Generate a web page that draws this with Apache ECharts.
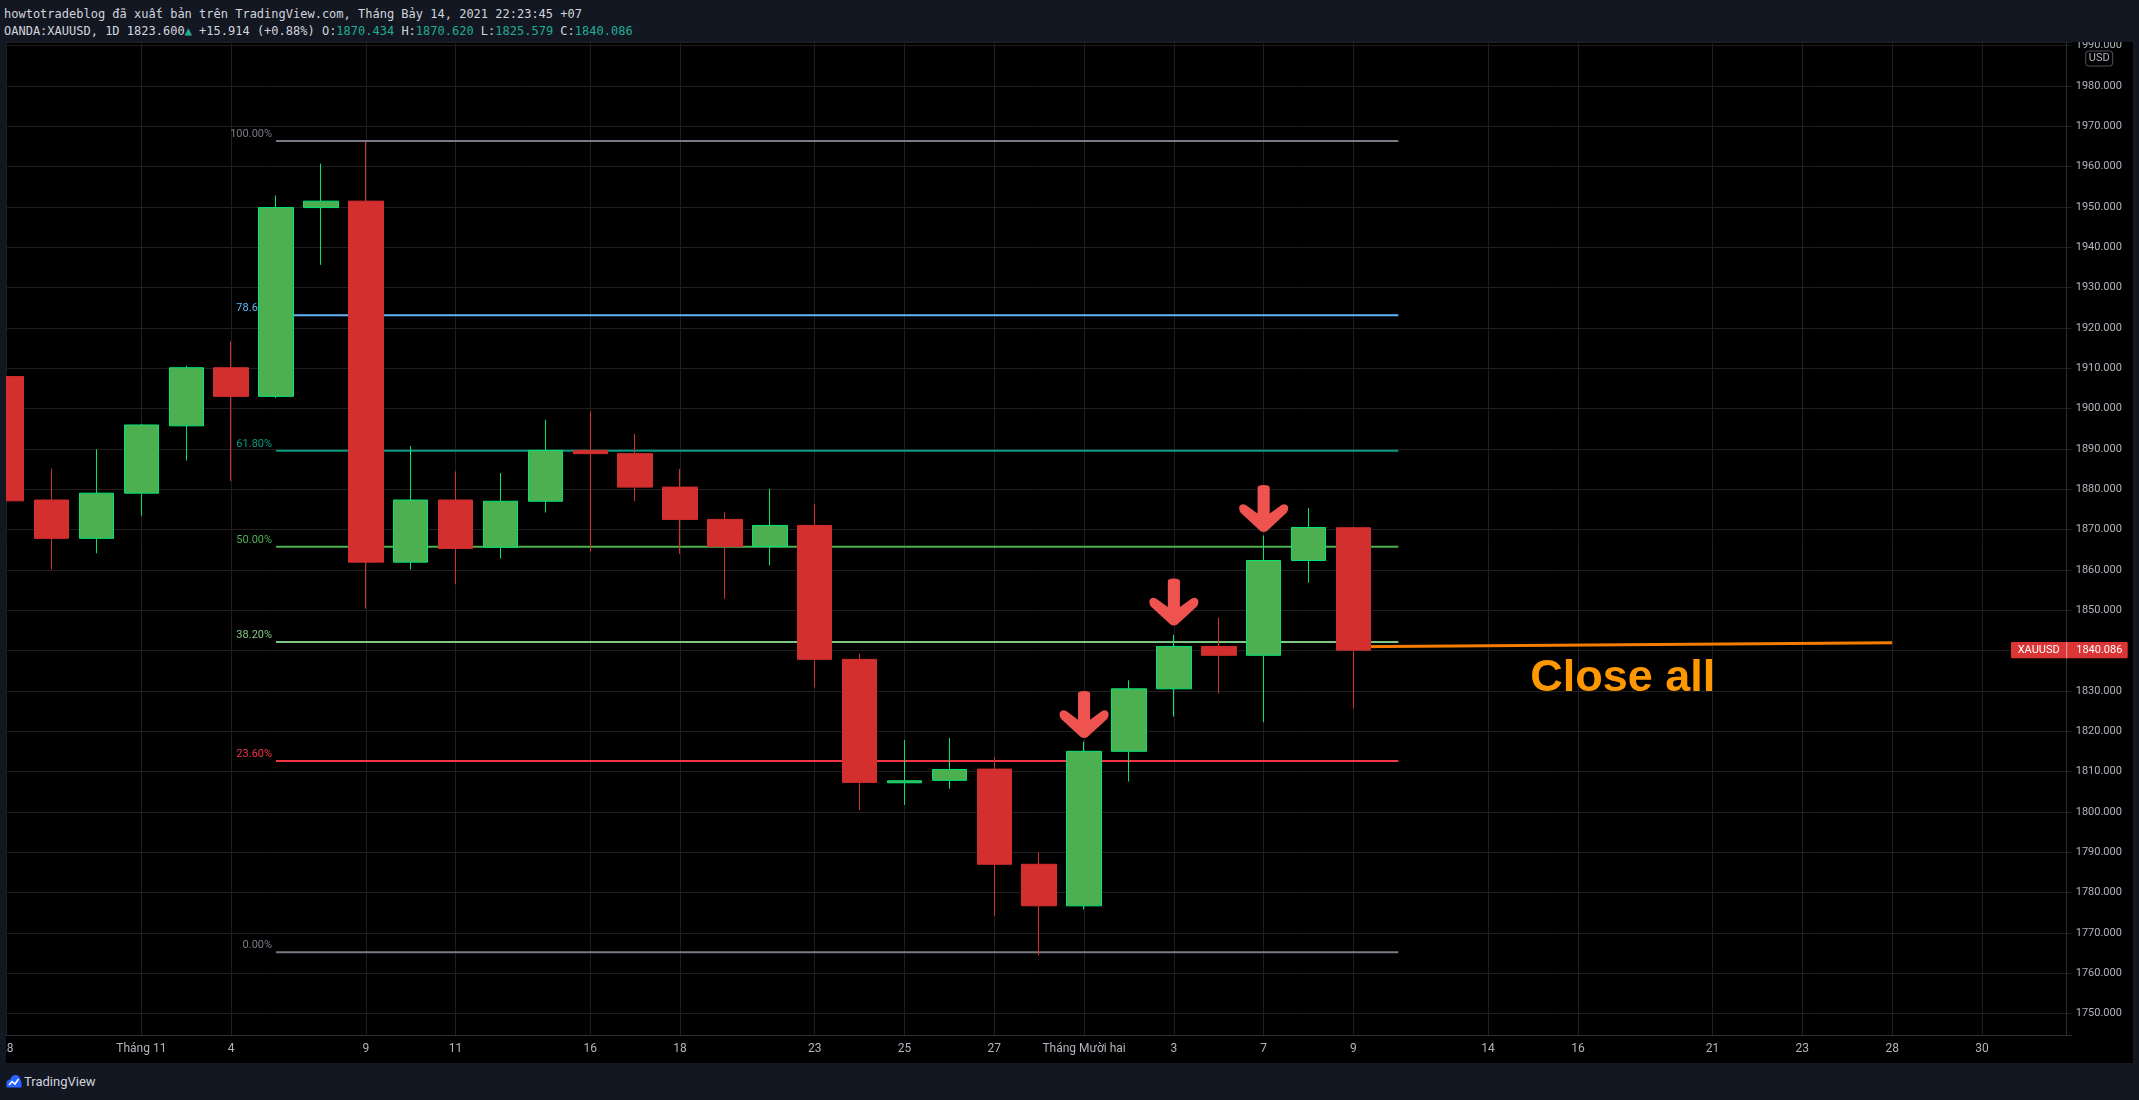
<!DOCTYPE html>
<html>
<head>
<meta charset="utf-8">
<title>XAUUSD 1D</title>
<script src="https://cdn.jsdelivr.net/npm/echarts@6/dist/echarts.min.js"></script>
<style>
    html, body { margin: 0; padding: 0; width: 2139px; height: 1100px; overflow: hidden; background: #131722; }
    #head { position: absolute; left: 4px; top: 6px; font-family: 'DejaVu Sans Mono', monospace; font-size: 12px; line-height: 17px; color: #d1d4dc; white-space: pre; }
    #head .up { color: #22ab94; }
    #main { position: absolute; left: 6px; top: 42px; width: 2127px; height: 1021px; background: #000; }
    #foot { position: absolute; left: 6px; top: 1073px; height: 16px; display: flex; align-items: center; font-family: Roboto, sans-serif; font-size: 13px; color: #d1d4dc; }
    #foot svg { margin-right: 2px; }
</style>
</head>
<body>
<div id="head">howtotradeblog đã xuất bản trên TradingView.com, Tháng Bảy 14, 2021 22:23:45 +07
OANDA:XAUUSD, 1D 1823.600<span class="up">▲</span> +15.914 (+0.88%) O:<span class="up">1870.434</span> H:<span class="up">1870.620</span> L:<span class="up">1825.579</span> C:<span class="up">1840.086</span></div>
<div id="main"></div>
<div id="foot">
    <svg width="16" height="14" viewBox="0 0 16 14"><path d="M0.5 13.5 L0.5 9 Q0.5 5.5 4.5 5.5 Q5.5 1 9.5 1 Q13.5 1 14.5 5.5 Q15.5 7 15.5 9.5 L15.5 13.5 Z" fill="#2962ff"/><polyline points="3,11 6,7.5 9,10 12.5,5" stroke="#fff" stroke-width="1.6" fill="none"/></svg>
    <span>TradingView</span>
</div>
<script>
    // trading days on the time scale (past bars + future slots)
    var days = [
        '2020-10-28', '2020-10-29', '2020-10-30', '2020-11-02', '2020-11-03', '2020-11-04', '2020-11-05',
        '2020-11-06', '2020-11-09', '2020-11-10', '2020-11-11', '2020-11-12', '2020-11-13', '2020-11-16',
        '2020-11-17', '2020-11-18', '2020-11-19', '2020-11-20', '2020-11-23', '2020-11-24', '2020-11-25',
        '2020-11-26', '2020-11-27', '2020-11-30', '2020-12-01', '2020-12-02', '2020-12-03', '2020-12-04',
        '2020-12-07', '2020-12-08', '2020-12-09', '2020-12-10', '2020-12-11', '2020-12-14', '2020-12-15',
        '2020-12-16', '2020-12-17', '2020-12-18', '2020-12-21', '2020-12-22', '2020-12-23', '2020-12-24',
        '2020-12-28', '2020-12-29', '2020-12-30', '2020-12-31', '2021-01-04'
    ];
    var tickDays = ['2020-10-28', '2020-11-02', '2020-11-04', '2020-11-09', '2020-11-11', '2020-11-16', '2020-11-18',
        '2020-11-23', '2020-11-25', '2020-11-27', '2020-12-01', '2020-12-03', '2020-12-07', '2020-12-09',
        '2020-12-14', '2020-12-16', '2020-12-21', '2020-12-23', '2020-12-28', '2020-12-30'];
    var tickTexts = ['28', 'Tháng 11', '4', '9', '11', '16', '18', '23', '25', '27', 'Tháng Mười hai', '3', '7', '9',
        '14', '16', '21', '23', '28', '30'];

    var opens  = [1907.9, 1877.3, 1867.8, 1879.0, 1895.7, 1910.1, 1903.0, 1949.8, 1951.4, 1861.9, 1877.3,
                  1865.6, 1877.0, 1889.6, 1888.8, 1880.5, 1872.5, 1865.8, 1871.0, 1837.8, 1807.2,
                  1807.8, 1810.6, 1787.0, 1776.7, 1815.0, 1830.5, 1841.0, 1838.8, 1862.3, 1870.434];
    var highs  = [1907.9, 1885.1, 1889.9, 1896.1, 1910.6, 1916.6, 1952.8, 1960.7, 1966.1, 1890.7, 1884.4,
                  1884.0, 1897.2, 1899.3, 1893.7, 1885.0, 1874.3, 1880.1, 1876.3, 1839.2, 1817.8,
                  1818.3, 1813.6, 1789.9, 1817.4, 1832.6, 1843.9, 1848.2, 1868.5, 1875.3, 1870.620];
    var lows   = [1877.1, 1860.1, 1864.1, 1873.4, 1887.1, 1882.0, 1902.6, 1935.6, 1850.4, 1860.1, 1856.4,
                  1862.8, 1874.2, 1864.5, 1877.0, 1863.9, 1852.8, 1861.1, 1830.9, 1800.4, 1801.7,
                  1805.7, 1774.2, 1764.4, 1775.8, 1807.5, 1823.6, 1829.3, 1822.2, 1856.8, 1825.579];
    var closes = [1877.1, 1867.8, 1879.0, 1895.9, 1910.1, 1903.0, 1949.8, 1951.4, 1861.9, 1877.3, 1865.3,
                  1877.0, 1889.6, 1888.8, 1880.5, 1872.5, 1865.8, 1871.0, 1837.8, 1807.3, 1807.7,
                  1810.5, 1787.0, 1776.7, 1815.0, 1830.5, 1841.0, 1838.8, 1862.3, 1870.5, 1840.086];
    var lastClose = 1840.086;

    // fibonacci retracement drawing
    var fibNames  = ['100.00%', '78.60%', '61.80%', '50.00%', '38.20%', '23.60%', '0.00%'];
    var fibPrices = [1966.3, 1923.1, 1889.5, 1865.7, 1842.1, 1812.6, 1765.2];
    var fibColors = ['#787b86', '#64b5f6', '#089981', '#4caf50', '#81c784', '#f23645', '#787b86'];
    var fibFrom = '2020-11-05', fibTo = '2020-12-10';

    // annotations
    var arrowDays = ['2020-12-01', '2020-12-03', '2020-12-07'];
    var arrowTips = [1818.3, 1846.2, 1869.4];
    var exitDays = ['2020-12-09', '2020-12-28'];
    var exitPrices = [1840.9, 1841.9];
    var noteDay = '2020-12-17', notePrice = 1833.0, noteText = 'Close all';

    var arrowPath = 'path://M38 6 Q38 0 50 0 Q62 0 62 6 L62 60 L84 43 Q93 37 98 45 Q100 53 95 59 L56 97 Q50 100 44 97 L5 59 Q0 53 2 45 Q7 37 16 43 L38 60 Z';

    var candles = [];
    for (var i = 0; i < opens.length; i++) {
        candles.push([opens[i], closes[i], lows[i], highs[i]]);
    }

    function isTick(index) {
        return tickDays.indexOf(days[index]) >= 0;
    }

    var series = [];
    for (var k = 0; k < fibPrices.length; k++) {
        series.push({
            type: 'line',
            silent: true,
            z: 1,
            symbol: 'none',
            lineStyle: { color: fibColors[k], width: 2 },
            data: [[fibFrom, fibPrices[k]], [fibTo, fibPrices[k]]]
        });
    }
    series.push({
        type: 'scatter',
        silent: true,
        z: 1,
        symbolSize: 0,
        itemStyle: { opacity: 1 },
        data: fibPrices.map(function (p, k) {
            return {
                value: [fibFrom, p],
                label: { color: fibColors[k], formatter: fibNames[k] }
            };
        }),
        label: {
            show: true,
            position: 'left',
            distance: 4,
            offset: [0, -7],
            fontSize: 11,
            fontFamily: 'Roboto'
        }
    });
    series.push({
        type: 'line',
        silent: true,
        z: 2,
        symbol: 'none',
        lineStyle: { color: '#f57c00', width: 3 },
        data: exitDays.map(function (d, k) { return [d, exitPrices[k]]; })
    });
    series.push({
        type: 'candlestick',
        z: 3,
        barWidth: 35,
        itemStyle: {
            color: '#4caf50',
            color0: '#d32f2f',
            borderColor: '#00e676',
            borderColor0: '#d32f2f',
            borderWidth: 1
        },
        data: candles
    });
    series.push({
        type: 'scatter',
        silent: true,
        z: 4,
        symbol: arrowPath,
        symbolSize: [49, 47],
        symbolOffset: [0, '-50%'],
        itemStyle: { color: '#ef5350', opacity: 1 },
        data: arrowDays.map(function (d, k) { return [d, arrowTips[k]]; })
    });
    series.push({
        type: 'scatter',
        silent: true,
        z: 4,
        symbolSize: 0,
        itemStyle: { opacity: 1 },
        data: [[noteDay, notePrice]],
        label: {
            show: true,
            position: 'inside',
            formatter: noteText,
            color: '#ff9800',
            fontSize: 45,
            fontWeight: 'bold',
            fontFamily: 'Liberation Sans'
        }
    });

    var chartDom = document.getElementById('main');
    var myChart = echarts.init(chartDom);
    var option;
    option = {
        backgroundColor: '#000',
        animation: false,
        grid: { left: 0.7, right: 61.3, top: 0, bottom: 27.3, containLabel: false, outerBoundsMode: 'none' },
        xAxis: {
            type: 'category',
            data: days,
            boundaryGap: false,
            axisLine: { show: true, lineStyle: { color: '#2a2e39' } },
            axisTick: { show: false },
            axisLabel: {
                interval: isTick,
                margin: 7,
                color: '#b2b5be',
                fontSize: 12,
                fontFamily: 'Roboto',
                formatter: function (value) {
                    var j = tickDays.indexOf(value);
                    return j >= 0 ? tickTexts[j] : '';
                }
            },
            splitLine: { show: true, interval: isTick, lineStyle: { color: '#1e1e1e', width: 1 } }
        },
        yAxis: {
            type: 'value',
            position: 'right',
            offset: -5,
            min: 1744.5,
            max: 1990.85,
            splitNumber: 24,
            axisLine: { show: true, lineStyle: { color: '#2a2e39' } },
            axisTick: { show: false },
            axisLabel: {
                margin: 9,
                color: '#b2b5be',
                fontSize: 11,
                fontFamily: 'Roboto',
                showMinLabel: false,
                showMaxLabel: false,
                formatter: function (v) { return v.toFixed(3); }
            },
            splitLine: { show: true, lineStyle: { color: '#1e1e1e', width: 1 } }
        },
        series: series
    };
    option && myChart.setOption(option);

    // price tag on the scale and the currency badge
    var tagY = myChart.convertToPixel({ yAxisIndex: 0 }, lastClose);
    var axisX = myChart.convertToPixel({ xAxisIndex: 0 }, days[days.length - 1]) - 5;
    myChart.setOption({
        graphic: [
            { type: 'rect', z: 10, shape: { x: axisX - 55.7, y: tagY - 8.2, width: 116.7, height: 16.4, r: 1 }, style: { fill: '#dc3535' } },
            { type: 'rect', z: 11, shape: { x: axisX - 0.5, y: tagY - 8.2, width: 1, height: 16.4 }, style: { fill: 'rgba(255,255,255,0.55)' } },
            { type: 'text', z: 11, x: axisX - 28, y: tagY, style: { text: 'XAUUSD', fill: '#fff', font: '11px Roboto', align: 'center', verticalAlign: 'middle' } },
            { type: 'text', z: 11, x: axisX + 9.5, y: tagY, style: { text: lastClose.toFixed(3), fill: '#fff', font: '11px Roboto', align: 'left', verticalAlign: 'middle' } },
            { type: 'rect', z: 10, shape: { x: axisX + 19, y: 9, width: 27, height: 15, r: 3 }, style: { fill: '#000', stroke: '#50535e', lineWidth: 1 } },
            { type: 'text', z: 11, x: axisX + 32.5, y: 16.5, style: { text: 'USD', fill: '#b2b5be', font: '11px Roboto', align: 'center', verticalAlign: 'middle' } }
        ]
    });
</script>
</body>
</html>
